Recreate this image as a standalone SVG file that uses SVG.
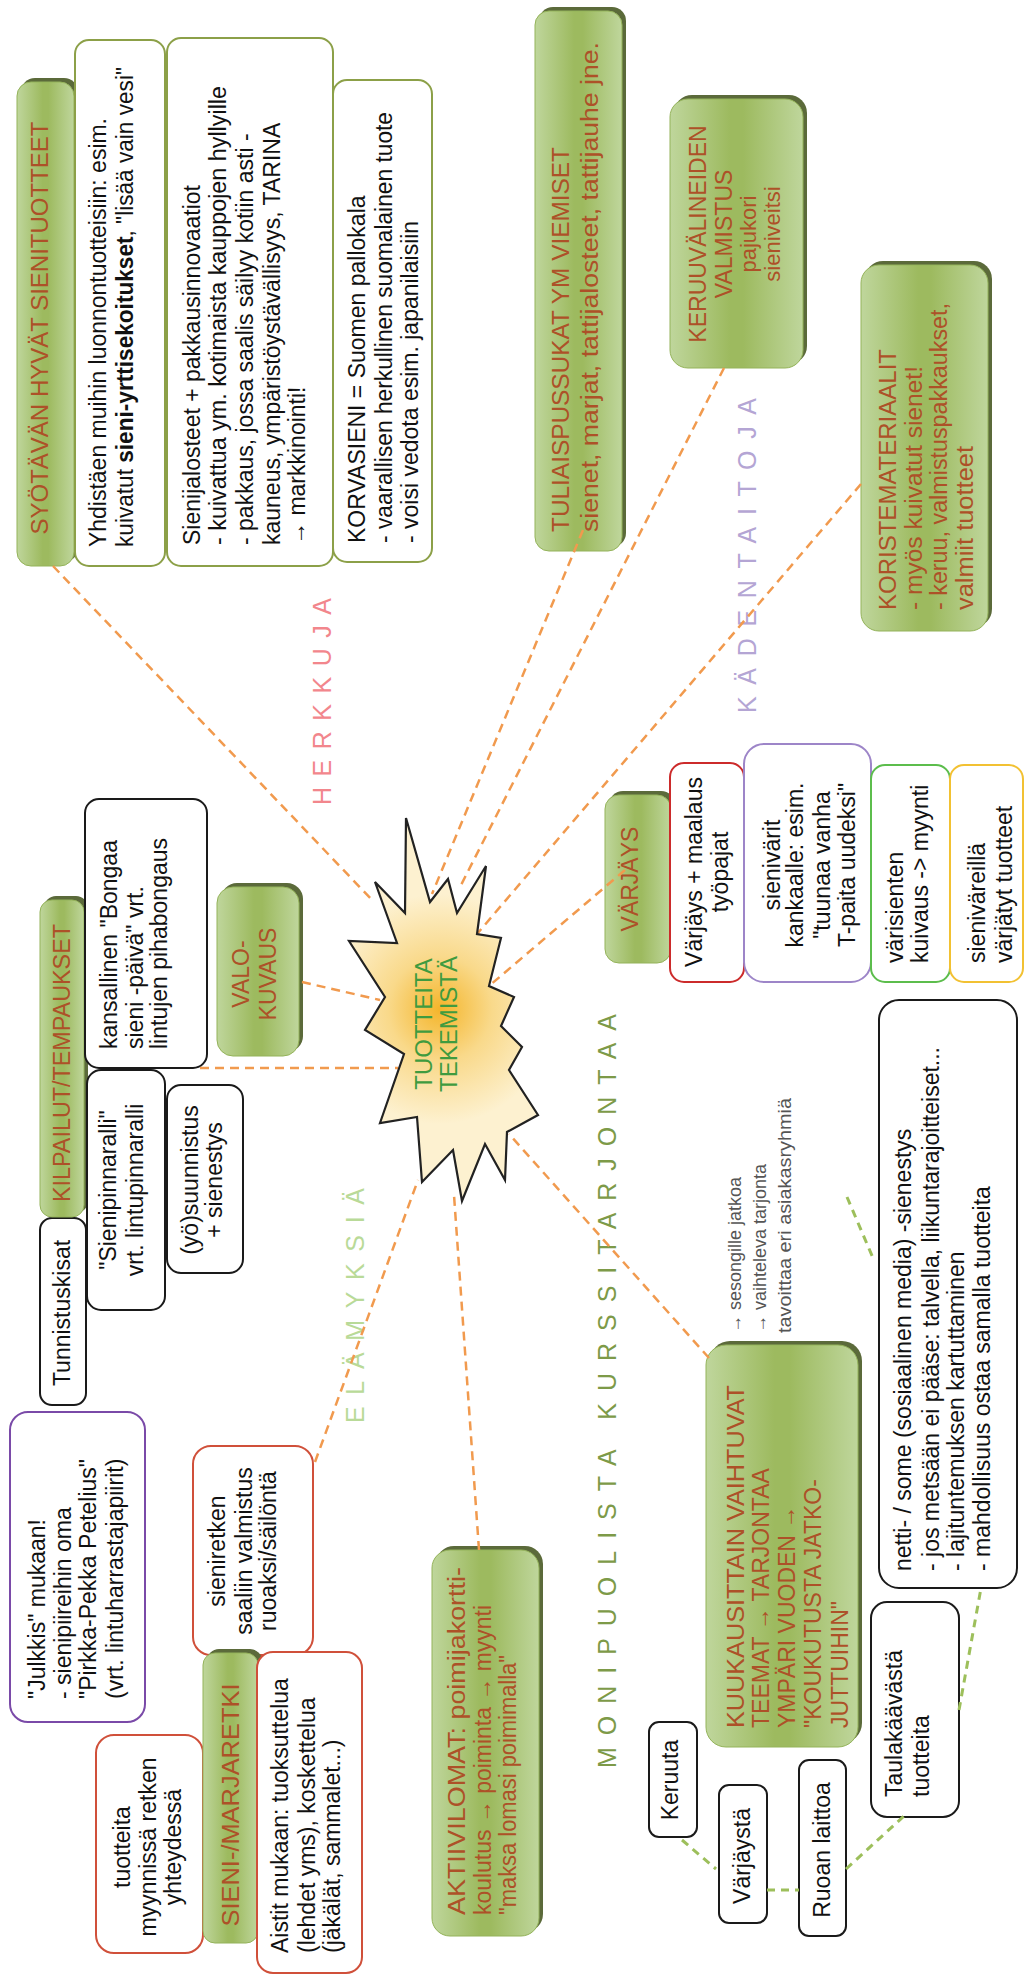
<svg xmlns="http://www.w3.org/2000/svg" width="1026" height="1977" viewBox="0 0 1026 1977">
<defs>
<linearGradient id="gg" x1="0" y1="0" x2="0" y2="1">
<stop offset="0" stop-color="#bfd69c"/>
<stop offset="0.45" stop-color="#9dba5f"/>
<stop offset="0.55" stop-color="#9dba5f"/>
<stop offset="1" stop-color="#bfd69c"/>
</linearGradient>
<radialGradient id="sg" gradientUnits="userSpaceOnUse" cx="968" cy="440" r="115">
<stop offset="0" stop-color="#f4b52a"/>
<stop offset="0.45" stop-color="#f9d98a"/>
<stop offset="1" stop-color="#fdf1d0"/>
</radialGradient>
<style>
.sh{fill:#5b6a3a}
.gb{fill:url(#gg);stroke:#94b35a;stroke-width:1}
.wb{fill:#fff;stroke-width:2}
.k{stroke:#1a1a1a}
.ol{stroke:#8ca048}
.pu{stroke:#7a4aa8}
.ro{stroke:#d0503a}
.rd{stroke:#cc2b2b}
.lp{stroke:#9d85c8}
.gr{stroke:#5cbd4c}
.ye{stroke:#f2c132}
text{font-family:"Liberation Sans",Arial,sans-serif}
.t{font-size:23px;fill:#111}
.gt{font-size:23px;fill:#ad5128}
.gs{font-size:23px;fill:#ad5128}
.m{text-anchor:middle}
.c{fill:none;stroke:#f19a4e;stroke-width:2.5;stroke-dasharray:9 6}
.cg{fill:none;stroke:#9dbf5b;stroke-width:3;stroke-dasharray:8 6}
.sp{font-size:25px}
.g{font-size:18px;fill:#555}
</style>
</defs>
<g transform="translate(0,1977) rotate(-90)">

<g id="syotavan">
<rect class="sh" x="1415" y="21" width="484" height="57" rx="14"/>
<rect class="gb" x="1411" y="17" width="484" height="57" rx="14"/>
<text class="gt m" x="1649" y="48" textLength="413" lengthAdjust="spacingAndGlyphs">SYÖTÄVÄN HYVÄT SIENITUOTTEET</text>
</g>
<g id="yhdistaen">
<rect class="wb ol" x="1411" y="75" width="526" height="90" rx="14"/>
<text class="t" x="1430" y="106" textLength="429" lengthAdjust="spacingAndGlyphs">Yhdistäen muihin luonnontuotteisiin: esim.</text>
<text class="t" x="1430" y="133" textLength="480" lengthAdjust="spacingAndGlyphs">kuivatut <tspan font-weight="bold">sieni-yrttisekoitukset</tspan>, "lisää vain vesi"</text>
</g>
<g id="sienijalosteet">
<rect class="wb ol" x="1411" y="167" width="528" height="166" rx="14"/>
<text class="t" x="1432" y="200">Sienijalosteet + pakkausinnovaatiot</text>
<text class="t" x="1432" y="226" textLength="459" lengthAdjust="spacingAndGlyphs">- kuivattua ym. kotimaista kauppojen hyllyille</text>
<text class="t" x="1432" y="253">- pakkaus, jossa saalis säilyy kotiin asti -</text>
<text class="t" x="1432" y="280">kauneus, ympäristöystävällisyys, TARINA</text>
<text class="t" x="1432" y="305">→ markkinointi!</text>
</g>
<g id="korvasieni">
<rect class="wb ol" x="1415" y="333" width="482" height="99" rx="14"/>
<text class="t" x="1434" y="365">KORVASIENI = Suomen pallokala</text>
<text class="t" x="1434" y="392" textLength="431" lengthAdjust="spacingAndGlyphs">- vaarallisen herkullinen suomalainen tuote</text>
<text class="t" x="1434" y="418">- voisi vedota esim. japanilaisiin</text>
</g>
<g id="tuliaispussukat">
<rect class="sh" x="1430" y="539" width="540" height="87" rx="14"/>
<rect class="gb" x="1426" y="535" width="540" height="87" rx="14"/>
<text class="gt" x="1445" y="569" textLength="385" lengthAdjust="spacingAndGlyphs">TULIAISPUSSUKAT YM VIEMISET</text>
<text class="gs" x="1445" y="598" textLength="490" lengthAdjust="spacingAndGlyphs">sienet, marjat, tattijalosteet, tattijauhe jne.</text>
</g>
<g id="keruuvalineiden">
<rect class="sh" x="1613" y="674" width="269" height="133" rx="18"/>
<rect class="gb" x="1609" y="670" width="269" height="133" rx="18"/>
<text class="gt m" x="1743" y="706">KERUUVÄLINEIDEN</text>
<text class="gt m" x="1743" y="732">VALMISTUS</text>
<text class="gs m" x="1743" y="756" style="font-size:22px">pajukori</text>
<text class="gs m" x="1743" y="780" style="font-size:22px">sieniveitsi</text>
</g>
<g id="koristemateriaalit">
<rect class="sh" x="1350" y="865" width="366" height="127" rx="18"/>
<rect class="gb" x="1346" y="861" width="366" height="127" rx="18"/>
<text class="gt" x="1367" y="896" textLength="261" lengthAdjust="spacingAndGlyphs">KORISTEMATERIAALIT</text>
<text class="gs" x="1367" y="922" textLength="244" lengthAdjust="spacingAndGlyphs">- myös kuivatut sienet!</text>
<text class="gs" x="1367" y="947" textLength="307" lengthAdjust="spacingAndGlyphs">- keruu, valmistuspakkaukset,</text>
<text class="gs" x="1367" y="973" textLength="164" lengthAdjust="spacingAndGlyphs">valmiit tuotteet</text>
</g>
<g id="tunnistuskisat">
<rect class="wb k" x="572" y="40" width="187" height="46" rx="12"/>
<text class="t m" x="664" y="70">Tunnistuskisat</text>
</g>
<g id="kilpailut">
<rect class="sh" x="764" y="44" width="317" height="44" rx="12"/>
<rect class="gb" x="760" y="40" width="317" height="44" rx="12"/>
<text class="gt m" x="914" y="70" textLength="278" lengthAdjust="spacingAndGlyphs">KILPAILUT/TEMPAUKSET</text>
</g>
<g id="kansallinen">
<rect class="wb k" x="909" y="85" width="269" height="122" rx="14"/>
<text class="t" x="928" y="117">kansallinen "Bongaa</text>
<text class="t" x="928" y="143">sieni -päivä" vrt.</text>
<text class="t" x="928" y="167">lintujen pihabongaus</text>
</g>
<g id="sienipinnaralli">
<rect class="wb k" x="667" y="87" width="240" height="78" rx="14"/>
<text class="t m" x="787" y="116">"Sienipinnaralli"</text>
<text class="t m" x="787" y="143">vrt. lintupinnaralli</text>
</g>
<g id="suunnistus">
<rect class="wb k" x="704" y="167" width="188" height="76" rx="14"/>
<text class="t m" x="797" y="198">(yö)suunnistus</text>
<text class="t m" x="797" y="222">+ sienestys</text>
</g>
<g id="valokuvaus">
<rect class="sh" x="925" y="221" width="169" height="82" rx="16"/>
<rect class="gb" x="921" y="217" width="169" height="82" rx="16"/>
<text class="gt m" x="1003" y="249">VALO-</text>
<text class="gt m" x="1003" y="276">KUVAUS</text>
</g>
<g id="julkkis">
<rect class="wb pu" x="255" y="10" width="310" height="135" rx="18"/>
<text class="t" x="278" y="45">"Julkkis" mukaan!</text>
<text class="t" x="278" y="71">- sienipiireihin oma</text>
<text class="t" x="278" y="96">"Pirkka-Pekka Petelius"</text>
<text class="t" x="278" y="123">(vrt. lintuharrastajapiirit)</text>
</g>
<g id="sieniretken">
<rect class="wb ro" x="322" y="193" width="209" height="120" rx="18"/>
<text class="t m" x="426" y="225">sieniretken</text>
<text class="t m" x="426" y="252">saaliin valmistus</text>
<text class="t m" x="426" y="276">ruoaksi/säilöntä</text>
</g>
<g id="tuotteita">
<rect class="wb ro" x="24" y="96" width="218" height="107" rx="18"/>
<text class="t m" x="130" y="130">tuotteita</text>
<text class="t m" x="130" y="156">myynnissä retken</text>
<text class="t m" x="130" y="181">yhteydessä</text>
</g>
<g id="sieniretki">
<rect class="sh" x="38" y="207" width="290" height="55" rx="12"/>
<rect class="gb" x="34" y="203" width="290" height="55" rx="12"/>
<text class="gt m" x="172" y="239" textLength="243" lengthAdjust="spacingAndGlyphs">SIENI-/MARJARETKI</text>
</g>
<g id="aistit">
<rect class="wb ro" x="4" y="257" width="321" height="105" rx="16"/>
<text class="t" x="24" y="288">Aistit mukaan: tuoksuttelua</text>
<text class="t" x="24" y="315">(lehdet yms), koskettelua</text>
<text class="t" x="24" y="340">(jäkälät, sammalet...)</text>
</g>
<g id="aktiivilomat">
<rect class="sh" x="45" y="436" width="386" height="107" rx="18"/>
<rect class="gb" x="41" y="432" width="386" height="107" rx="18"/>
<text class="gs" x="62" y="465" textLength="348" lengthAdjust="spacingAndGlyphs">AKTIIVILOMAT: poimijakortti-</text>
<text class="gs" x="62" y="491" textLength="310" lengthAdjust="spacingAndGlyphs">koulutus → poiminta → myynti</text>
<text class="gs" x="62" y="516" textLength="260" lengthAdjust="spacingAndGlyphs">"maksa lomasi poimimalla"</text>
</g>
<g id="varjays">
<rect class="sh" x="1018" y="609" width="168" height="66" rx="14"/>
<rect class="gb" x="1014" y="605" width="168" height="66" rx="14"/>
<text class="gt m" x="1098" y="638">VÄRJÄYS</text>
</g>
<g id="varjays-maalaus">
<rect class="wb rd" x="995" y="670" width="219" height="74" rx="14"/>
<text class="t m" x="1105" y="702">Värjäys + maalaus</text>
<text class="t m" x="1105" y="728">työpajat</text>
</g>
<g id="sienivarit">
<rect class="wb lp" x="995" y="744" width="238" height="127" rx="20"/>
<text class="t m" x="1112" y="780">sienivärit</text>
<text class="t m" x="1112" y="803">kankaalle: esim.</text>
<text class="t m" x="1112" y="830">"tuunaa vanha</text>
<text class="t m" x="1112" y="855">T-paita uudeksi"</text>
</g>
<g id="varisienten">
<rect class="wb gr" x="995" y="871" width="217" height="79" rx="14"/>
<text class="t" x="1014" y="903">värisienten</text>
<text class="t" x="1014" y="928">kuivaus -&gt; myynti</text>
</g>
<g id="sienivareilla">
<rect class="wb ye" x="995" y="950" width="217" height="73" rx="14"/>
<text class="t" x="1014" y="985">sieniväreillä</text>
<text class="t" x="1014" y="1012">värjätyt tuotteet</text>
</g>
<g id="kuukausittain">
<rect class="sh" x="234" y="710" width="402" height="152" rx="20"/>
<rect class="gb" x="230" y="706" width="402" height="152" rx="20"/>
<text class="gt" x="249" y="744" textLength="343" lengthAdjust="spacingAndGlyphs">KUUKAUSITTAIN VAIHTUVAT</text>
<text class="gt" x="249" y="769">TEEMAT → TARJONTAA</text>
<text class="gt" x="249" y="795">YMPÄRI VUODEN →</text>
<text class="gt" x="249" y="821">"KOUKUTUSTA JATKO-</text>
<text class="gt" x="249" y="848">JUTTUIHIN"</text>
</g>
<g id="hyodyt">
<text class="g" x="644" y="741">→ sesongille jatkoa</text>
<text class="g" x="644" y="766">→ vaihteleva tarjonta</text>
<text class="g" x="644" y="791" textLength="235" lengthAdjust="spacingAndGlyphs">tavoittaa eri asiakasryhmiä</text>
</g>
<g id="netti">
<rect class="wb k" x="389" y="879" width="588" height="138" rx="20"/>
<text class="t" x="406" y="911">netti- / some (sosiaalinen media) -sienestys</text>
<text class="t" x="406" y="939" textLength="524" lengthAdjust="spacingAndGlyphs">- jos metsään ei pääse: talvella, liikuntarajoitteiset...</text>
<text class="t" x="406" y="964">- lajituntemuksen kartuttaminen</text>
<text class="t" x="406" y="990">- mahdollisuus ostaa samalla tuotteita</text>
</g>
<g id="taulakaava">
<rect class="wb k" x="160" y="871" width="215" height="88" rx="16"/>
<text class="t" x="180" y="902">Taulakäävästä</text>
<text class="t" x="180" y="929">tuotteita</text>
</g>
<g id="ruoan">
<rect class="wb k" x="41" y="799" width="176" height="47" rx="10"/>
<text class="t m" x="127" y="830">Ruoan laittoa</text>
</g>
<g id="varjaysta">
<rect class="wb k" x="54" y="719" width="138" height="48" rx="10"/>
<text class="t m" x="121" y="750">Värjäystä</text>
</g>
<g id="keruuta">
<rect class="wb k" x="140" y="649" width="115" height="48" rx="10"/>
<text class="t m" x="197" y="678">Keruuta</text>
</g>

<g id="labels">
<text class="sp" x="1172" y="331" textLength="207" lengthAdjust="spacing" style="fill:#f2868c">HERKKUJA</text>
<text class="sp" x="1264" y="756" textLength="315" lengthAdjust="spacing" style="fill:#b4a5d4">KÄDENTAITOJA</text>
<text class="sp" x="554" y="364" textLength="235" lengthAdjust="spacing" style="fill:#b9da98">ELÄMYKSIÄ</text>
<text class="sp" x="209" y="616" textLength="754" lengthAdjust="spacing" style="fill:#7d9a48">MONIPUOLISTA KURSSITARJONTAA</text>
</g>

<g id="connectors">
<path class="c" d="M1411,53 L1075,374"/>
<path class="c" d="M1447,583 L1083,432"/>
<path class="c" d="M1609,724 L1088,459"/>
<path class="c" d="M1493,861 L1043,477"/>
<path class="c" d="M1107,625 L991,489"/>
<path class="c" d="M995,302 L977,380"/>
<path class="c" d="M909,200 L909,398"/>
<path class="c" d="M515,315 L797,418"/>
<path class="c" d="M427,479 L782,454"/>
<path class="c" d="M619,709 L843,509"/>
<path class="cg" d="M137,682 L108,716"/>
<path class="cg" d="M87,767 L87,799"/>
<path class="cg" d="M108,846 L161,904"/>
<path class="cg" d="M267,959 L389,981"/>
<path class="cg" d="M780,847 L719,873"/>
</g>

<g id="center">
<polygon points="1159,406 1075,430 1098,448 1064,457 1111,486 1043,477 1039,501 991,489 980,514 951,501 930,522 907,509 862,538 845,507 797,505 833,485 776,462 827,453 795,422 860,417 854,380 923,404 947,365 980,385 1036,349 1034,397 1095,375 1064,405" fill="url(#sg)" stroke="#222" stroke-width="2.2" stroke-linejoin="miter"/>
<text class="m" x="953" y="432" style="font-size:24px;fill:#3f9b3f">TUOTTEITA</text>
<text class="m" x="953" y="457" style="font-size:24px;fill:#3f9b3f">TEKEMISTÄ</text>
</g>

</g>
</svg>
